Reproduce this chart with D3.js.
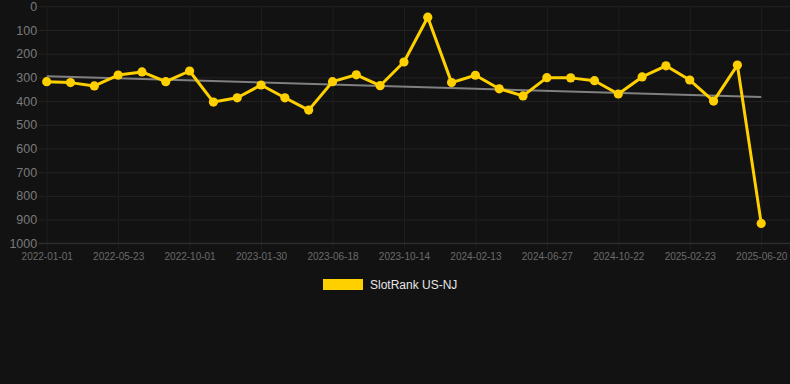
<!DOCTYPE html>
<html><head><meta charset="utf-8">
<script src="https://cdn.jsdelivr.net/npm/d3@7"></script>
<style>
html,body{margin:0;padding:0;background:#121212;}
svg{display:block;font-family:"Liberation Sans",Arial,Helvetica,sans-serif;}
</style></head>
<body><svg id="c" width="790" height="384"></svg>
<script>
const categories = ["2022-01-01","2022-02-17","2022-04-06","2022-05-23","2022-07-05","2022-08-18","2022-10-01","2022-11-10","2022-12-20","2023-01-30","2023-03-17","2023-05-02","2023-06-18","2023-07-27","2023-09-04","2023-10-14","2023-11-23","2024-01-03","2024-02-13","2024-03-28","2024-05-13","2024-06-27","2024-08-05","2024-09-13","2024-10-22","2024-12-02","2025-01-12","2025-02-23","2025-04-01","2025-05-11","2025-06-20"];
const values = [318,322,336,290,277,318,273,404,386,332,386,438,318,289,335,235,46,322,291,348,378,301,302,314,370,298,251,311,400,248,916];
const trendValues = [295,383];
const yTicks = [0,100,200,300,400,500,600,700,800,900,1000];
const tickLabels = ["2022-01-01","2022-05-23","2022-10-01","2023-01-30","2023-06-18","2023-10-14","2024-02-13","2024-06-27","2024-10-22","2025-02-23","2025-06-20"];
const seriesName = "SlotRank US-NJ";

const svg = d3.select("#c");
const pL = 46.7, pR = 790, pT = 6.3, pB = 243.3;
const x = d3.scaleLinear().domain([0, categories.length - 1]).range([pL, 761.2]);
const y = d3.scaleLinear().domain([0, 1000]).range([pT, pB]);

// horizontal grid
const yAxis = d3.axisLeft(y).tickValues(yTicks).tickFormat(d3.format("d")).tickSize(pR - pL + 8).tickPadding(2);
const gy = svg.append("g").attr("transform", `translate(${pR},0)`).call(yAxis);
gy.select(".domain").remove();
gy.selectAll(".tick line").attr("stroke", "#232323").attr("stroke-width", 1);
gy.selectAll(".tick text").attr("fill", "#7a7a7a").attr("font-size", 12.5).attr("x", -(pR - pL + 9.5));

// vertical grid with x labels
const xIdx = categories.map((d,i)=>i).filter(i => tickLabels.includes(categories[i]));
const xAxis = d3.axisBottom(x).tickValues(xIdx).tickFormat(i => categories[i]).tickSize(pB - pT + 6).tickPadding(4);
const gx = svg.append("g").attr("transform", `translate(0,${pT})`).call(xAxis);
gx.select(".domain").remove();
gx.selectAll(".tick line").attr("stroke", "#1f1f1f").attr("stroke-width", 1);
gx.selectAll(".tick text").attr("fill", "#6a6a6a").attr("font-size", 10);

// baseline
svg.append("line").attr("x1", pL - 8).attr("x2", pR).attr("y1", y(1000)).attr("y2", y(1000)).attr("stroke", "#333");

// trend
svg.append("line")
  .attr("x1", x(0)).attr("y1", y(trendValues[0]))
  .attr("x2", x(categories.length - 1)).attr("y2", y(trendValues[1]))
  .attr("stroke", "#808080").attr("stroke-width", 2);

// series
const line = d3.line().x((d,i)=>x(i)).y(d=>y(d));
svg.append("path").datum(values).attr("d", line).attr("fill","none")
  .attr("stroke","#FFD000").attr("stroke-width",3).attr("stroke-linejoin","round");
svg.append("g").selectAll("circle").data(values).join("circle")
  .attr("cx",(d,i)=>x(i)).attr("cy",d=>y(d)).attr("r",4.6).attr("fill","#FFD000");

// legend
svg.append("rect").attr("x",323).attr("y",279).attr("width",40).attr("height",11).attr("fill","#FFD000");
svg.append("text").attr("x",370).attr("y",289).attr("fill","#e6e6e6").attr("font-size",12).text(seriesName);
</script></body></html>
